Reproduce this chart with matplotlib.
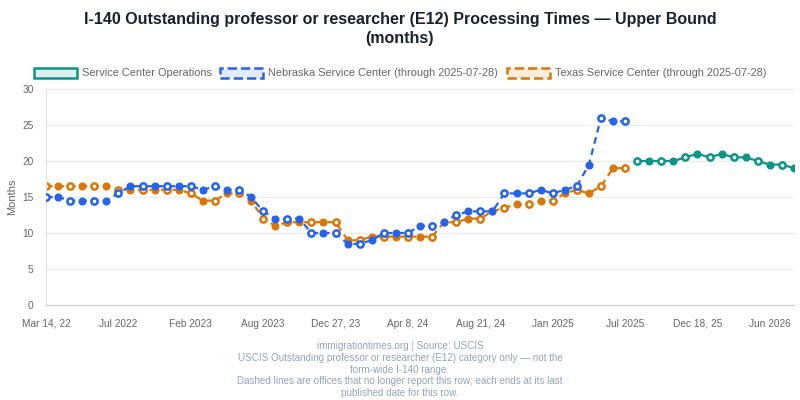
import matplotlib
matplotlib.use("Agg")
import matplotlib.pyplot as plt
from matplotlib.patches import Patch
import numpy as np

plt.rcParams['font.family'] = ['Liberation Sans', 'DejaVu Sans']

# upper bound processing times in months, one value per published report
nebraska = [15, 15, 14.5, 14.5, 14.5, 14.5, 15.5, 16.5, 16.5, 16.5,
            16.5, 16.5, 16.5, 16, 16.5, 16, 16, 15, 13, 12,
            12, 12, 10, 10, 10, 8.5, 8.5, 9, 10, 10,
            10, 11, 11, 11.5, 12.5, 13, 13, 13, 15.5, 15.5,
            15.5, 16, 15.5, 16, 16.5, 19.5, 26, 25.5, 25.5]
texas = [16.5, 16.5, 16.5, 16.5, 16.5, 16.5, 16, 16, 16, 16,
         16, 16, 15.5, 14.5, 14.5, 15.5, 15.5, 14.5, 12, 11,
         11.5, 11.5, 11.5, 11.5, 11.5, 9, 9, 9.5, 9.5, 9.5,
         9.5, 9.5, 9.5, 11.5, 11.5, 12, 12, 13, 13.5, 14,
         14, 14.5, 14.5, 15.5, 16, 15.5, 16.5, 19, 19]
service_center = [20, 20, 20, 20, 20.5, 21, 20.5, 21, 20.5, 20.5,
                  20, 19.5, 19.5, 19]

tick_labels = ["Mar 14, 22", "Jul 2022", "Feb 2023", "Aug 2023", "Dec 27, 23",
               "Apr 8, 24", "Aug 21, 24", "Jan 2025", "Jul 2025", "Dec 18, 25",
               "Jun 2026"]

BLUE = "#2563eb"
ORANGE = "#d97706"
TEAL = "#0d9488"
GREY = "#666666"

fig = plt.figure(figsize=(8, 4), dpi=100)
ax = fig.add_axes([0.0575, 0.2375, 0.935, 0.54])

x_old = np.arange(len(nebraska))
x_new = np.arange(len(nebraska), len(nebraska) + len(service_center))


def draw_series(x, y, color, ls, z):
    ax.plot(x, y, color=color, linestyle=ls, linewidth=1.6,
            dashes=(3, 2.2) if ls == '--' else (None, None), zorder=z)
    x = np.asarray(x)
    y = np.asarray(y)
    hollow = (np.arange(len(x)) % 2 == 0)
    ax.plot(x[~hollow], y[~hollow], 'o', color=color, markersize=4.8,
            markeredgewidth=1.0, linestyle='none', zorder=z + 0.1)
    ax.plot(x[hollow], y[hollow], 'o', markerfacecolor='white',
            markeredgecolor=color, markersize=4.5, markeredgewidth=1.8,
            linestyle='none', zorder=z + 0.1)


draw_series(x_old, texas, ORANGE, '--', 2)
draw_series(x_old, nebraska, BLUE, '--', 3)
draw_series(x_new, service_center, TEAL, '-', 4)

ax.set_xlim(0, x_new[-1])
ax.set_ylim(0, 30)
ax.set_yticks(range(0, 31, 5))
ax.set_xticks(range(0, 61, 6))
ax.set_xticklabels(tick_labels)
ax.tick_params(axis='both', length=0, labelsize=7.3, colors=GREY)
ax.tick_params(axis='x', pad=15.5)
ax.tick_params(axis='y', pad=9)
for lab in ax.get_xticklabels():
    lab.set_verticalalignment('baseline')
ax.grid(axis='y', color='#ebebeb', linewidth=0.8)
ax.set_axisbelow(True)
for s in ['top', 'right']:
    ax.spines[s].set_visible(False)
ax.spines['left'].set_color('#e0e0e0')
ax.spines['bottom'].set_color('#d0d0d0')
ax.set_ylabel("Months", fontsize=8, color=GREY, labelpad=3.5)

fig.text(0.5, 0.952, "I-140 Outstanding professor or researcher (E12) Processing Times \u2014 Upper Bound",
         ha='center', va='center', fontsize=11.5, fontweight='bold', color='#1a202c')
fig.text(0.5, 0.903, "(months)", ha='center', va='center', fontsize=11.5,
         fontweight='bold', color='#1a202c')

handles = [
    Patch(facecolor='#dff1ef', edgecolor=TEAL, linewidth=1.8),
    Patch(facecolor='#e3ebfc', edgecolor=BLUE, linewidth=1.8, linestyle='--'),
    Patch(facecolor='#fbeedd', edgecolor=ORANGE, linewidth=1.8, linestyle='--'),
]
labels = ["Service Center Operations",
          "Nebraska Service Center (through 2025-07-28)",
          "Texas Service Center (through 2025-07-28)"]
fig.legend(handles, labels, loc='center', bbox_to_anchor=(0.5, 0.8175), ncol=3,
           frameon=False, fontsize=7.9, labelcolor=GREY, handlelength=3.9,
           handleheight=1.1, handletextpad=0.45, columnspacing=0.8)

footer = ["immigrationtimes.org | Source: USCIS",
          "USCIS Outstanding professor or researcher (E12) category only \u2014 not the",
          "form-wide I-140 range.",
          "Dashed lines are offices that no longer report this row; each ends at its last",
          "published date for this row."]
for i, line in enumerate(footer):
    fig.text(0.5, 1 - (346 + i * 11.8) / 400, line, ha='center', va='center',
             fontsize=7.1, color='#94a3b8')

fig.savefig("out.png", dpi=100)
